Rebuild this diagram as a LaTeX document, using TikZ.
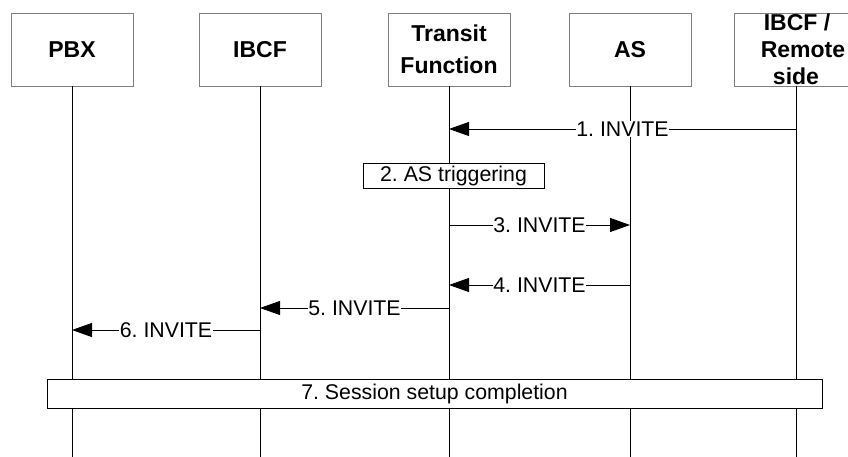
\documentclass[tikz,border=0pt]{standalone}
\usepackage{fontspec}
\setmainfont{Liberation Sans}
\usetikzlibrary{arrows.meta}
\begin{document}
\frenchspacing
\begin{tikzpicture}[x=1pt,y=-1pt,
 head/.style={draw=gray, line width=0.8pt, fill=white, minimum width=122pt, minimum height=73pt, font=\fontsize{23}{32}\selectfont\bfseries, align=center, inner sep=0pt},
 life/.style={line width=0.9pt},
 msg/.style={line width=0.9pt, -{Triangle[length=20pt,width=14pt]}},
 lbl/.style={fill=white, inner sep=0.5pt, font=\fontsize{21.3}{24}\selectfont},
 stepbox/.style={draw, line width=0.9pt, fill=white, inner sep=0pt, font=\fontsize{21.3}{24}\selectfont}]
\clip (0,0) rectangle (848,457);
% header boxes
\node[head] (pbx) at (72,49.5) {PBX};
\node[head] (ibcf) at (260,49.5) {IBCF};
\node[head] (tf) at (449,49.5) {Transit\\Function};
\node[head] (as) at (630,49.5) {AS};
\node[head, minimum width=124pt, font=\fontsize{23}{27}\selectfont\bfseries] (rem) at (796,49.5) {\hspace*{2pt}IBCF /\\\hspace*{14pt}Remote\\side};
% lifeline ends
\coordinate (pbxe) at (72,457);
\coordinate (ibcfe) at (260,457);
\coordinate (tfe) at (449,457);
\coordinate (ase) at (630,457);
\coordinate (reme) at (796,457);
\draw[life] (pbx) -- (pbxe);
\draw[life] (ibcf) -- (ibcfe);
\draw[life] (tf) -- (tfe);
\draw[life] (as) -- (ase);
\draw[life] (rem) -- (reme);
% message points
\coordinate (m1a) at (796,129); \coordinate (m1b) at (449,129);
\coordinate (m3a) at (449,225); \coordinate (m3b) at (630,225);
\coordinate (m4a) at (630,285); \coordinate (m4b) at (449,285);
\coordinate (m5a) at (449,308); \coordinate (m5b) at (260,308);
\coordinate (m6a) at (260,330); \coordinate (m6b) at (72,330);
\draw[msg] (m1a) -- node[lbl] {1. INVITE} (m1b);
\node[stepbox, minimum width=181pt, minimum height=25pt] (s2) at (453.5,175.5) {2. AS triggering};
\draw[msg] (m3a) -- node[lbl] {3. INVITE} (m3b);
\draw[msg] (m4a) -- node[lbl] {4. INVITE} (m4b);
\draw[msg] (m5a) -- node[lbl] {5. INVITE} (m5b);
\draw[msg] (m6a) -- node[lbl] {6. INVITE} (m6b);
\node[stepbox, minimum width=775pt, minimum height=29pt] (s7) at (434.5,394) {7. Session setup completion};
\end{tikzpicture}
\end{document}
